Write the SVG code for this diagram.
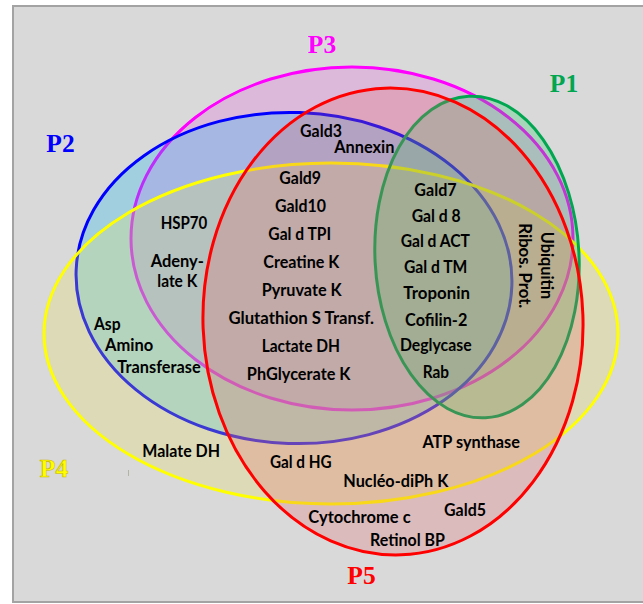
<svg xmlns="http://www.w3.org/2000/svg" width="643" height="604" viewBox="0 0 643 604">
<style>
.set{stroke-width:3;fill-opacity:0.25}
.t{font-family:Lato,"Liberation Sans","DejaVu Sans",sans-serif;font-weight:bold;font-size:16.5px;fill:#000;text-anchor:middle}
.lab{font-family:"Liberation Serif","Times New Roman",serif;font-weight:bold;font-size:25.5px;text-anchor:middle}
</style>
<rect x="0" y="0" width="643" height="604" fill="#ffffff"/>
<rect id="frame" x="13" y="6" width="640" height="596" fill="#d9d9d9" stroke="#a3a3a3" stroke-width="2"/>
<g id="P3">
<ellipse class="set" cx="352" cy="238.5" rx="221" ry="171.5" fill="#e95de5" stroke="#ff00ff"/>
<text class="lab" x="322" y="53" fill="#ff00ff">P3</text>
</g>
<g id="P2">
<ellipse class="set" cx="294" cy="278" rx="218" ry="165.5" transform="rotate(2 294 278)" fill="#00b5f9" stroke="#0000ff"/>
<text class="lab" x="60.5" y="151.5" fill="#0000ff">P2</text>
</g>
<g id="P4">
<ellipse class="set" cx="331" cy="333.5" rx="287" ry="170.5" fill="#ede555" stroke="#ffff00"/>
<text class="lab" x="54" y="477" fill="#ffff00" stroke="#c8b400" stroke-width="0.6">P4</text>
<line x1="128.5" y1="470" x2="128.5" y2="476" stroke="#b4b4a4" stroke-width="1"/>
</g>
<g id="P1">
<ellipse class="set" cx="477" cy="257" rx="102" ry="161" transform="rotate(-3 477 257)" fill="#15d55d" stroke="#00a650"/>
<text class="lab" x="564" y="92" fill="#00a650">P1</text>
</g>
<g id="P5">
<ellipse class="set" cx="393" cy="321.5" rx="190" ry="233.5" transform="rotate(-2 393 321.5)" fill="#e56565" stroke="#ff0000"/>
<text class="lab" x="361.5" y="584" fill="#ff0000">P5</text>
</g>
<g id="items">
<text class="t" x="321" y="136.5" textLength="41.8" lengthAdjust="spacingAndGlyphs">Gald3</text>
<text class="t" x="364.3" y="152.7" textLength="60.3" lengthAdjust="spacingAndGlyphs">Annexin</text>
<text class="t" x="300.2" y="184" textLength="41.7" lengthAdjust="spacingAndGlyphs">Gald9</text>
<text class="t" x="300.5" y="212.3" textLength="51" lengthAdjust="spacingAndGlyphs">Gald10</text>
<text class="t" x="299.7" y="240" textLength="62.7" lengthAdjust="spacingAndGlyphs">Gal d TPI</text>
<text class="t" x="301.3" y="267.7" textLength="76" lengthAdjust="spacingAndGlyphs">Creatine K</text>
<text class="t" x="301.7" y="295.5" textLength="80" lengthAdjust="spacingAndGlyphs">Pyruvate K</text>
<text class="t" x="301.2" y="323.5" textLength="145.6" lengthAdjust="spacingAndGlyphs">Glutathion S Transf.</text>
<text class="t" x="300.8" y="351.5" textLength="78.3" lengthAdjust="spacingAndGlyphs">Lactate DH</text>
<text class="t" x="298.7" y="379.5" textLength="103.7" lengthAdjust="spacingAndGlyphs">PhGlycerate K</text>
<text class="t" x="435.5" y="195.7" textLength="42.3" lengthAdjust="spacingAndGlyphs">Gald7</text>
<text class="t" x="436.2" y="221.7" textLength="49" lengthAdjust="spacingAndGlyphs">Gal d 8</text>
<text class="t" x="435.3" y="247.3" textLength="69.3" lengthAdjust="spacingAndGlyphs">Gal d ACT</text>
<text class="t" x="435.7" y="273.3" textLength="63.3" lengthAdjust="spacingAndGlyphs">Gal d TM</text>
<text class="t" x="436.7" y="299.3" textLength="66.7" lengthAdjust="spacingAndGlyphs">Troponin</text>
<text class="t" x="436.2" y="325.7" textLength="62.3" lengthAdjust="spacingAndGlyphs">Cofilin-2</text>
<text class="t" x="435.8" y="351.3" textLength="71.7" lengthAdjust="spacingAndGlyphs">Deglycase</text>
<text class="t" x="435.8" y="377.7" textLength="26.3" lengthAdjust="spacingAndGlyphs">Rab</text>
<text class="t" x="184" y="229.3" textLength="46.7" lengthAdjust="spacingAndGlyphs">HSP70</text>
<text class="t" x="177.3" y="267" textLength="53.3" lengthAdjust="spacingAndGlyphs">Adeny-</text>
<text class="t" x="177.3" y="286.7" textLength="40" lengthAdjust="spacingAndGlyphs">late K</text>
<text class="t" x="107.3" y="330" textLength="26.7" lengthAdjust="spacingAndGlyphs">Asp</text>
<text class="t" x="129.2" y="350.7" textLength="48.3" lengthAdjust="spacingAndGlyphs">Amino</text>
<text class="t" x="159" y="372.7" textLength="83.3" lengthAdjust="spacingAndGlyphs">Transferase</text>
<text class="t" x="181.2" y="456.7" textLength="77.7" lengthAdjust="spacingAndGlyphs">Malate DH</text>
<text class="t" x="300.8" y="467.7" textLength="61.7" lengthAdjust="spacingAndGlyphs">Gal d HG</text>
<text class="t" x="395.8" y="486.7" textLength="105" lengthAdjust="spacingAndGlyphs">Nucléo-diPh K</text>
<text class="t" x="471.2" y="448.3" textLength="97.6" lengthAdjust="spacingAndGlyphs">ATP synthase</text>
<text class="t" x="359.5" y="522.7" textLength="102.3" lengthAdjust="spacingAndGlyphs">Cytochrome c</text>
<text class="t" x="465" y="516.3" textLength="42" lengthAdjust="spacingAndGlyphs">Gald5</text>
<text class="t" x="407.5" y="545.7" textLength="75" lengthAdjust="spacingAndGlyphs">Retinol BP</text>
<text class="t" transform="translate(540.5 265.5) rotate(90)" x="0" y="0" textLength="67.6" lengthAdjust="spacingAndGlyphs">Ubiquitin</text>
<text class="t" transform="translate(518.5 265.8) rotate(90)" x="0" y="0" textLength="85" lengthAdjust="spacingAndGlyphs">Ribos. Prot.</text>
</g>
</svg>
